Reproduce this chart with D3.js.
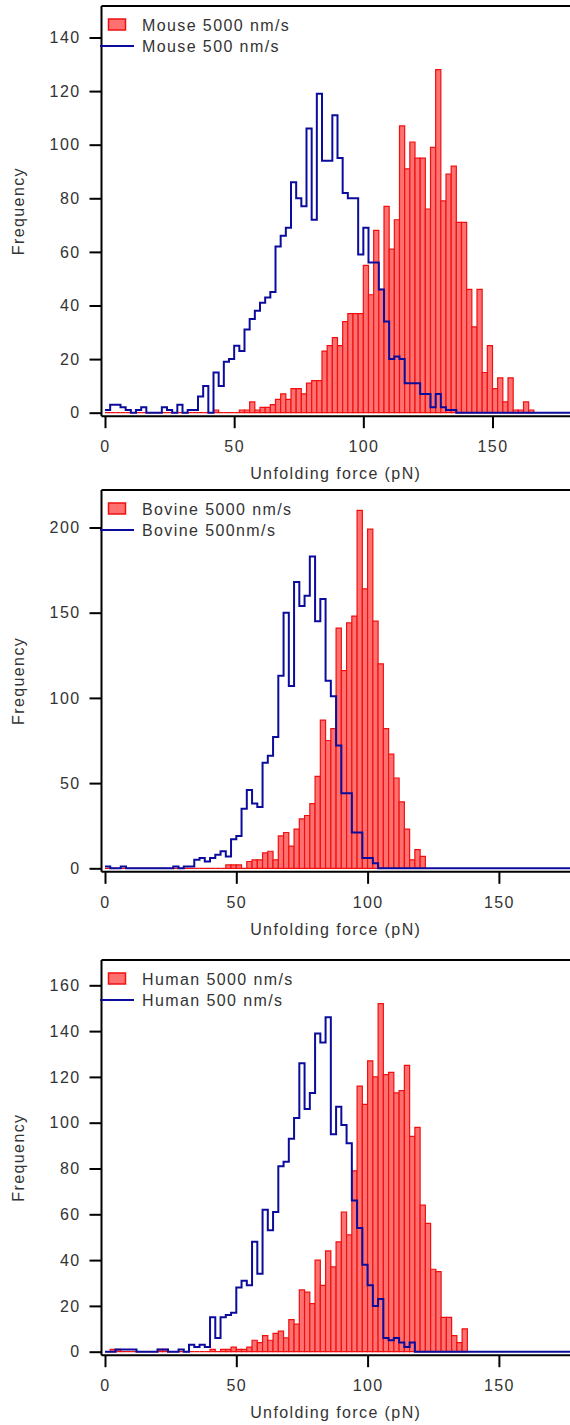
<!DOCTYPE html>
<html>
<head>
<meta charset="utf-8">
<title>Unfolding force histograms</title>
<script src="https://d3js.org/d3.v7.min.js"></script>
<style>
  body { margin: 0; background: #fff; }
  svg text { font-family: "Liberation Sans", Arial, sans-serif; fill: #333; font-size: 16px; letter-spacing: 1.4px; }
</style>
</head>
<body>
<svg id="chart" width="570" height="1425"></svg>
<script>
// every histogram uses 2 pN bins starting at 0 pN
const binWidth = 2;

// counts per bin, 5000 nm/s (bars) and 500 nm/s (step line)
const mouseFast = [
  0, 0, 0, 0, 0, 0, 0, 0, 0, 0,
  0, 0, 0, 0, 0, 0, 0, 0, 0, 0,
  0, 1, 0, 0, 0, 0, 1, 1, 4, 1,
  2, 2, 3, 5, 7, 5, 9, 9, 7, 11,
  12, 12, 23, 25, 28, 25, 34, 37, 37, 37,
  55, 44, 68, 46, 77, 61, 72, 107, 91, 101,
  95, 95, 76, 99, 128, 79, 89, 92, 71, 71,
  46, 32, 46, 15, 25, 9, 13, 4, 13, 1,
  1, 4, 1
];
const mouseSlow = [
  1, 3, 3, 2, 1, 0, 1, 2, 0, 0,
  0, 2, 1, 0, 3, 0, 1, 1, 6, 10,
  0, 15, 10, 19, 20, 25, 23, 31, 35, 38,
  41, 43, 45, 62, 66, 69, 86, 80, 77, 106,
  72, 119, 94, 94, 111, 95, 82, 80, 80, 59,
  69, 56, 56, 46, 34, 20, 21, 20, 11, 11,
  11, 7, 7, 2, 7, 2, 1, 1, 0, 0,
  0, 0, 0, 0, 0, 0, 0, 0, 0, 0,
  0, 0, 0, 0, 0, 0, 0, 0, 0, 0
];
const bovineFast = [
  0, 0, 0, 0, 0, 0, 0, 0, 0, 0,
  0, 0, 0, 0, 0, 0, 0, 0, 0, 0,
  0, 0, 0, 2, 2, 2, 0, 4, 5, 5,
  9, 10, 5, 19, 21, 13, 23, 29, 31, 38,
  54, 87, 75, 82, 141, 116, 144, 148, 210, 164,
  199, 145, 120, 82, 67, 53, 39, 23, 5, 11,
  7
];
const bovineSlow = [
  1, 0, 0, 1, 0, 0, 0, 0, 0, 0,
  0, 0, 0, 1, 0, 1, 1, 5, 6, 4,
  6, 8, 10, 7, 17, 19, 35, 46, 38, 36,
  62, 66, 77, 113, 150, 107, 168, 154, 160, 183,
  145, 158, 110, 101, 72, 44, 44, 21, 21, 6,
  6, 3, 0, 0, 0, 0, 0, 0, 0, 0,
  0, 0, 0, 0, 0, 0, 0, 0, 0, 0,
  0, 0, 0, 0, 0, 0, 0, 0, 0, 0,
  0, 0, 0, 0, 0, 0, 0, 0, 0
];
const humanFast = [
  0, 1, 1, 0, 0, 0, 0, 0, 0, 0,
  1, 1, 0, 0, 0, 0, 0, 0, 0, 0,
  1, 0, 1, 1, 2, 1, 1, 2, 5, 4,
  7, 5, 8, 9, 6, 14, 12, 27, 26, 21,
  40, 29, 44, 37, 48, 61, 51, 79, 116, 108,
  127, 120, 152, 121, 122, 113, 114, 125, 94, 98,
  64, 56, 36, 35, 15, 15, 7, 4, 10
];
const humanSlow = [
  0, 0, 1, 1, 1, 1, 0, 0, 0, 0,
  1, 1, 0, 0, 1, 0, 3, 2, 3, 2,
  15, 6, 15, 16, 17, 28, 31, 29, 48, 34,
  62, 53, 61, 81, 83, 93, 102, 126, 106, 113,
  139, 135, 146, 95, 107, 99, 91, 66, 54, 38,
  29, 20, 23, 6, 5, 6, 4, 2, 4, 0,
  0, 0, 0, 0, 0, 0, 0, 0, 0, 0,
  0, 0, 0, 0, 0, 0, 0, 0, 0, 0,
  0, 0, 0, 0, 0, 0, 0, 0, 0
];

const mouseLabels = ["Mouse 5000 nm/s", "Mouse 500 nm/s"];
const bovineLabels = ["Bovine 5000 nm/s", "Bovine 500nm/s"];
const humanLabels = ["Human 5000 nm/s", "Human 500 nm/s"];

const mouseTicks = [0, 20, 40, 60, 80, 100, 120, 140];
const bovineTicks = [0, 50, 100, 150, 200];
const humanTicks = [0, 20, 40, 60, 80, 100, 120, 140, 160];
const forceTicks = [0, 50, 100, 150];

const barFill = "#ff7070";
const barStroke = "#f01010";
const lineColor = "#0c0c9c";

const plotLeft = 101.5, plotRight = 570;

const panels = [
  { fast: mouseFast, slow: mouseSlow, labels: mouseLabels, yTicks: mouseTicks,
    xDomain: [-1.355, 180.0], yDomain: [-1.31, 151.75], top: 6, bottom: 416.2 },
  { fast: bovineFast, slow: bovineSlow, labels: bovineLabels, yTicks: bovineTicks,
    xDomain: [-1.333, 177.08], yDomain: [-2.05, 222.0], top: 490, bottom: 871.8 },
  { fast: humanFast, slow: humanSlow, labels: humanLabels, yTicks: humanTicks,
    xDomain: [-1.333, 177.08], yDomain: [-1.53, 171.05], top: 960, bottom: 1355.2 }
];

const svg = d3.select("#chart");

panels.forEach(p => {
  const x = d3.scaleLinear().domain(p.xDomain).range([plotLeft, plotRight]);
  const y = d3.scaleLinear().domain(p.yDomain).range([p.bottom, p.top]);
  const g = svg.append("g").attr("class", "panel");

  // bars for the fast pulling speed; zero bins still draw their outline
  g.append("g").selectAll("path")
    .data(p.fast)
    .join("path")
    .attr("d", (d, i) => {
      const x0 = x(i * binWidth), x1 = x((i + 1) * binWidth);
      return `M${x0},${y(0)}V${y(d)}H${x1}V${y(0)}Z`;
    })
    .attr("fill", barFill)
    .attr("stroke", barStroke)
    .attr("stroke-width", 1.2);

  // step trace for the slow pulling speed
  const pts = p.slow.map((d, i) => [i * binWidth, d]);
  pts.push([p.slow.length * binWidth, p.slow[p.slow.length - 1]]);
  g.append("path")
    .datum(pts)
    .attr("fill", "none")
    .attr("stroke", lineColor)
    .attr("stroke-width", 2)
    .attr("d", d3.line().x(d => x(d[0])).y(d => y(d[1])).curve(d3.curveStepAfter));

  // top frame line
  g.append("line")
    .attr("x1", plotLeft).attr("x2", plotRight + 2)
    .attr("y1", p.top).attr("y2", p.top)
    .attr("stroke", "#000").attr("stroke-width", 2);

  // left axis
  const yAxis = g.append("g")
    .attr("transform", `translate(${plotLeft},0)`)
    .call(d3.axisLeft(y).tickValues(p.yTicks).tickSize(12).tickSizeOuter(0).tickPadding(9));
  yAxis.select(".domain").attr("d", `M0,${p.top}V${p.bottom}`);

  // bottom axis
  const xAxis = g.append("g")
    .attr("transform", `translate(0,${p.bottom})`)
    .call(d3.axisBottom(x).tickValues(forceTicks).tickSize(12).tickSizeOuter(0).tickPadding(12.5));
  xAxis.select(".domain").attr("d", `M${plotLeft},0H${plotRight + 2}`);

  [yAxis, xAxis].forEach(ax => {
    ax.attr("font-family", null).attr("font-size", null);
    ax.selectAll(".domain, .tick line").attr("stroke", "#000").attr("stroke-width", 2);
    ax.selectAll("text").attr("fill", "#333");
  });

  // axis titles
  g.append("text")
    .attr("x", (plotLeft + plotRight) / 2)
    .attr("y", p.bottom + 63)
    .attr("text-anchor", "middle")
    .text("Unfolding force (pN)");

  g.append("text")
    .attr("transform", `translate(24,${(p.top + p.bottom) / 2}) rotate(-90)`)
    .attr("text-anchor", "middle")
    .text("Frequency");

  // legend
  const lg = g.append("g").attr("transform", `translate(0,${p.top})`);
  lg.append("rect")
    .attr("x", 108.5).attr("y", 13).attr("width", 17).attr("height", 11)
    .attr("fill", barFill).attr("stroke", barStroke).attr("stroke-width", 1.5);
  lg.append("line")
    .attr("x1", 100).attr("x2", 134).attr("y1", 40).attr("y2", 40)
    .attr("stroke", lineColor).attr("stroke-width", 2);
  lg.append("text").attr("x", 142).attr("y", 24.5).text(p.labels[0]);
  lg.append("text").attr("x", 142).attr("y", 45.5).text(p.labels[1]);
});
</script>
</body>
</html>
